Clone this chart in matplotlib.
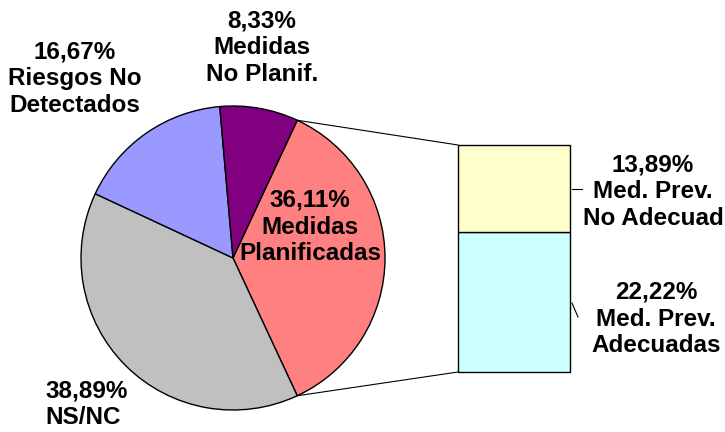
import numpy as np
import matplotlib
matplotlib.use("Agg")
from matplotlib import pyplot as plt

# pie data (clockwise from the exploded slice)
pie_labels = ["Medidas\nPlanificadas", "NS/NC", "Riesgos No\nDetectados", "Medidas\nNo Planif."]
pie_values = [36.11, 38.89, 16.67, 8.33]
pie_colors = ["#FF8080", "#C0C0C0", "#9999FF", "#800080"]

# bar data (bottom to top)
bar_labels = ["Med. Prev.\nAdecuadas", "Med. Prev.\nNo Adecuad"]
bar_values = [22.22, 13.89]
bar_colors = ["#CCFFFF", "#FFFFCC"]

def pct(v):
    return ("%.2f%%" % v).replace(".", ",")

plt.rcParams["font.family"] = ["Liberation Sans", "DejaVu Sans"]
fig = plt.figure(figsize=(7.25, 4.32), dpi=100)
ax = fig.add_axes([0, 0, 1, 1])

cx, cy, r = 233, 174, 152
wedges, _ = ax.pie(pie_values, colors=pie_colors, startangle=65, counterclock=False,
                   center=(cx, cy), radius=r, frame=True,
                   wedgeprops=dict(edgecolor="black", linewidth=1))
ax.set_xlim(0, 725)
ax.set_ylim(0, 432)
ax.axis("off")

# bar of pie
bx, bw, by = 514, 112, 60
scale = 227 / sum(bar_values)
bottom = by
for v, c in zip(bar_values, bar_colors):
    ax.bar(bx, v * scale, width=bw, bottom=bottom, color=c, edgecolor="black", linewidth=1)
    bottom += v * scale

# connector lines from pink wedge edges to bar corners
w = wedges[0]
for ang, ybar in [(w.theta2, by + 227), (w.theta1, by)]:
    px = cx + r * np.cos(np.radians(ang))
    py = cy + r * np.sin(np.radians(ang))
    ax.plot([px, bx - bw / 2], [py, ybar], color="black", linewidth=0.8)

fs = 17.5
kw = dict(fontsize=fs, fontweight="bold", linespacing=1.22)
label_pos = [(310, 205), (45, 28), (75, 353), (262, 384)]
for lab, v, (x, y) in zip(pie_labels, pie_values, label_pos):
    if lab == "NS/NC":
        ax.text(x, y, pct(v) + "\n" + lab, ha="left", va="center", multialignment="left", **kw)
    else:
        ax.text(x, y, pct(v) + "\n" + lab, ha="center", va="center", multialignment="center", **kw)

bar_pos = [(656, 113), (653, 240)]
for lab, v, (x, y) in zip(bar_labels, bar_values, bar_pos):
    ax.text(x, y, pct(v) + "\n" + lab, ha="center", va="center", multialignment="center",
            clip_on=False, **kw)

# small leader lines
ax.plot([572, 582], [243, 243], color="black", linewidth=0.8)
ax.plot([572, 578], [129, 115], color="black", linewidth=0.8)

fig.savefig("out.png", dpi=100)
